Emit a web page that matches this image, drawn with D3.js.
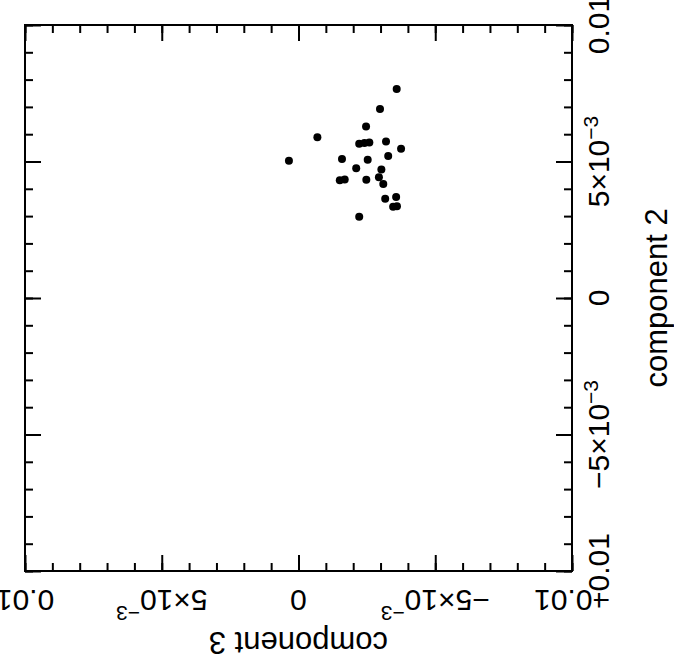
<!DOCTYPE html>
<html><head><meta charset="utf-8">
<script src="https://cdn.jsdelivr.net/npm/d3@7"></script>
<style>body{margin:0;background:#fff}svg{display:block}text{font-family:"Liberation Sans",Arial,sans-serif;fill:#000}</style>
</head><body><svg id="c" width="674" height="657"></svg>
<script>
// component 3 (horizontal axis, reversed) values
const comp3 = [-0.00359,-0.00298,-0.00247,-0.00069,-0.00222,-0.00241,-0.00259,-0.00320,-0.00375,0.00035,
 -0.00159,-0.00253,-0.00328,-0.00211,-0.00303,-0.00151,-0.00169,-0.00248,-0.00294,-0.00310,
 -0.00317,-0.00357,-0.00346,-0.00360,-0.00222];
// component 2 (vertical axis) values
const comp2 = [0.00766,0.00692,0.00628,0.00589,0.00565,0.00568,0.00570,0.00573,0.00547,0.00503,
 0.00509,0.00506,0.00520,0.00475,0.00471,0.00431,0.00434,0.00433,0.00442,0.00418,
 0.00364,0.00370,0.00334,0.00336,0.00298];
const majorTicks = [0.01, 0.005, 0, -0.005, -0.01];
const tickLabels = [["0.01",""],["5×10","−3"],["0",""],["−5×10","−3"],["−0.01",""]];
const xTitle = "component 3", yTitle = "component 2";

const svg = d3.select("#c");
const L=25, R=572, T=25, B=571;
const x = d3.scaleLinear().domain([0.01,-0.01]).range([L,R]);
const y = d3.scaleLinear().domain([0.01,-0.01]).range([T,B]);
const minor = d3.range(-10,11).map(i=>i/1000);

function ax(gen, tr, vals, size){
  const g1 = svg.append("g").attr("transform",tr).call(gen.tickValues(vals).tickSize(size).tickFormat("").tickSizeOuter(0));
  g1.select(".domain").remove();
  g1.selectAll("line").attr("stroke","#000").attr("stroke-width",2);
}
[[d3.axisBottom(x),`translate(0,${B})`],[d3.axisTop(x),`translate(0,${T})`],
 [d3.axisLeft(y),`translate(${L},0)`],[d3.axisRight(y),`translate(${R},0)`]].forEach(([gen,tr])=>{
  ax(gen,tr,minor,-8); ax(gen,tr,majorTicks,-16);
});

svg.append("rect").attr("x",L).attr("y",T).attr("width",R-L).attr("height",B-T)
  .attr("fill","none").attr("stroke","#000").attr("stroke-width",2);

function label(g, parts, supDy){
  const t = g.append("text").attr("text-anchor","middle").attr("font-size",30);
  t.append("tspan").text(parts[0]);
  if(parts[1]) t.append("tspan").attr("dy",supDy).attr("font-size",21).text(parts[1]);
}
// bottom labels (upside down)
majorTicks.forEach((v,i)=>{
  const g = svg.append("g").attr("transform",`translate(${x(v)},590) rotate(180)`);
  label(g, tickLabels[i], -16);
});
// right labels (rotated -90)
majorTicks.forEach((v,i)=>{
  const g = svg.append("g").attr("transform",`translate(609,${y(v)}) rotate(-90)`);
  label(g, tickLabels[i], -11);
});
svg.append("text").attr("transform",`translate(${(L+R)/2},632) rotate(180)`)
  .attr("text-anchor","middle").attr("font-size",31).text(xTitle);
svg.append("text").attr("transform",`translate(667,${(T+B)/2}) rotate(-90)`)
  .attr("text-anchor","middle").attr("font-size",31).text(yTitle);

svg.append("g").selectAll("circle").data(comp3).join("circle")
  .attr("cx",d=>x(d)).attr("cy",(d,i)=>y(comp2[i])).attr("r",4).attr("fill","#000");
</script></body></html>
